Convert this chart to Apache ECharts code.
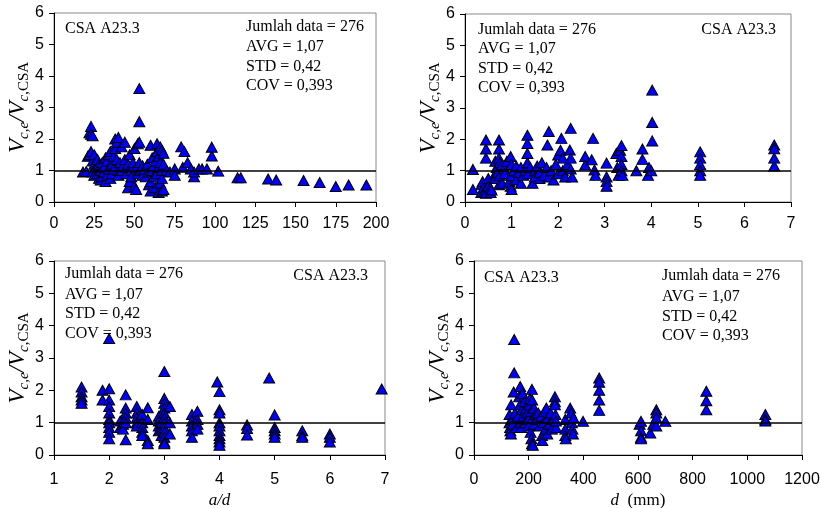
<!DOCTYPE html>
<html><head><meta charset="utf-8">
<script src="https://cdn.jsdelivr.net/npm/echarts@6/dist/echarts.min.js"></script>
<style>html,body{margin:0;padding:0;background:#fff}#c{width:822px;height:508px}</style>
</head><body><div id="c"></div>
<script>
// ---- Data ----
// Panel 1 (top-left): x axis 0..200
const p1 = [[18,0.95],[20,0.97],[21,1.45],[22,1.5],[22,2.2],[23,2.4],[23,2.15],[24,2.1],[23,1.6],[24,1.3],[25,1.5],[25,1.2],[24,0.95],[25,0.85],[26,1.1],[27,1.35],[27,0.9],[28,0.75],[28,1.2],[29,1.0],[29,0.7],[30,0.8],[30,1.25],[31,0.95],[31,1.1],[32,0.65],[32,1.4],[33,0.85],[33,1.3],[34,1.5],[34,1.05],[35,0.75],[35,1.6],[36,1.2],[36,0.9],[37,1.45],[37,1.05],[38,2.0],[38,1.7],[39,1.9],[39,1.35],[40,2.05],[40,1.0],[40,0.85],[41,1.25],[42,1.75],[42,1.0],[43,1.15],[44,1.9],[44,1.35],[45,0.9],[45,1.1],[46,0.45],[46,1.2],[47,0.65],[47,1.5],[48,1.0],[48,0.8],[49,1.25],[50,1.7],[50,0.5],[51,0.4],[51,1.1],[52,1.85],[52,0.9],[53,3.6],[53,2.55],[53,1.9],[53,1.25],[54,1.0],[55,0.85],[55,1.15],[56,1.05],[57,0.8],[58,1.2],[59,0.55],[59,0.95],[60,1.8],[60,0.35],[60,0.65],[61,1.4],[61,1.0],[62,0.8],[62,1.15],[63,0.45],[63,1.3],[64,1.85],[64,1.6],[64,0.9],[65,0.3],[65,1.1],[65,1.45],[66,1.75],[66,0.6],[66,1.25],[67,1.65],[67,0.35],[67,1.0],[67,0.75],[68,0.4],[68,1.55],[68,1.2],[70,1.0],[72,0.95],[75,1.05],[75,0.85],[79,1.75],[80,1.1],[81,1.6],[83,1.25],[85,1.05],[87,0.8],[87,0.95],[90,1.05],[92,1.05],[95,1.05],[98,1.74],[98,1.46],[102,0.98],[114,0.77],[116,0.77],[133,0.73],[138,0.7],[155,0.68],[165,0.62],[175,0.49],[183,0.54],[194,0.54]];
// Panel 2 (top-right): x axis 0..7
const p2 = [[0.17,1.04],[0.17,0.4],[0.35,0.55],[0.35,0.3],[0.38,0.65],[0.4,0.45],[0.42,0.35],[0.45,1.98],[0.45,1.69],[0.45,1.4],[0.45,0.28],[0.5,0.75],[0.5,0.5],[0.55,0.3],[0.55,0.45],[0.57,0.38],[0.65,1.3],[0.65,0.9],[0.65,0.75],[0.68,1.1],[0.7,0.95],[0.73,1.98],[0.73,1.69],[0.73,1.4],[0.73,0.55],[0.75,1.25],[0.75,0.85],[0.8,1.2],[0.8,0.6],[0.85,1.05],[0.85,0.9],[0.9,1.3],[0.95,0.65],[0.98,1.45],[0.98,0.5],[1.0,0.4],[1.0,1.2],[1.0,0.85],[1.05,1.0],[1.1,0.7],[1.1,1.15],[1.15,0.95],[1.2,0.6],[1.2,1.1],[1.25,0.85],[1.3,1.0],[1.34,2.13],[1.34,1.87],[1.34,1.55],[1.34,1.25],[1.35,0.9],[1.4,1.1],[1.45,0.6],[1.5,1.0],[1.5,0.8],[1.55,1.15],[1.6,0.75],[1.6,0.95],[1.65,1.25],[1.7,0.85],[1.75,1.1],[1.77,1.82],[1.8,2.25],[1.8,0.8],[1.85,1.0],[1.9,0.7],[1.95,1.2],[2.0,1.5],[2.0,0.9],[2.05,1.65],[2.07,2.03],[2.1,1.4],[2.1,1.0],[2.15,0.8],[2.2,1.2],[2.25,1.66],[2.27,2.35],[2.27,1.4],[2.27,1.05],[2.3,0.8],[2.58,1.45],[2.58,1.18],[2.72,1.35],[2.75,2.03],[2.78,1.02],[2.8,0.85],[3.04,1.24],[3.04,0.8],[3.04,0.65],[3.04,0.5],[3.25,1.55],[3.27,1.1],[3.3,0.85],[3.33,1.65],[3.36,1.8],[3.36,1.45],[3.36,1.2],[3.36,1.0],[3.38,0.85],[3.68,1.0],[3.81,1.69],[3.81,1.36],[3.93,0.85],[3.95,1.1],[4.0,1.0],[4.02,3.57],[4.02,2.54],[4.02,1.95],[5.05,1.6],[5.05,1.4],[5.05,1.2],[5.05,1.0],[5.05,0.85],[6.64,1.82],[6.64,1.7],[6.64,1.4],[6.64,1.15]];
// Panel 3 (bottom-left): a/d, x axis 1..7
const p3 = [[1.5,2.1],[1.5,1.95],[1.5,1.8],[1.5,1.7],[1.5,1.6],[1.88,2.0],[1.88,1.7],[2.0,3.6],[2.0,2.05],[2.0,1.7],[2.0,1.5],[2.0,1.3],[2.0,1.1],[2.0,1.0],[2.0,0.85],[2.0,0.7],[2.0,0.5],[2.2,1.05],[2.2,0.85],[2.25,0.95],[2.25,0.8],[2.3,1.86],[2.3,1.45],[2.3,1.3],[2.3,1.15],[2.3,1.0],[2.3,0.47],[2.5,1.5],[2.5,1.3],[2.5,1.15],[2.5,1.0],[2.5,0.9],[2.6,1.25],[2.6,1.0],[2.6,0.85],[2.6,0.7],[2.6,0.6],[2.7,1.46],[2.7,1.1],[2.7,0.45],[2.7,0.35],[2.9,1.2],[2.9,1.05],[2.9,0.9],[2.9,0.75],[2.95,1.0],[2.95,0.8],[2.95,0.6],[3.0,2.58],[3.0,1.75],[3.0,1.6],[3.0,1.45],[3.0,1.3],[3.0,1.15],[3.0,1.0],[3.0,0.85],[3.0,0.7],[3.0,0.55],[3.0,0.4],[3.0,0.35],[3.1,1.5],[3.1,1.0],[3.1,0.65],[3.5,1.25],[3.5,1.05],[3.5,0.9],[3.5,0.75],[3.5,0.55],[3.6,1.35],[3.6,1.1],[3.6,0.95],[3.6,0.8],[3.96,2.26],[4.0,1.96],[4.0,1.4],[4.0,1.3],[4.0,1.0],[4.0,0.9],[4.0,0.75],[4.0,0.6],[4.0,0.5],[4.0,0.4],[4.0,0.3],[4.5,0.93],[4.5,0.82],[4.5,0.62],[4.9,2.38],[5.0,1.24],[5.0,0.85],[5.0,0.75],[5.0,0.65],[5.0,0.55],[5.5,0.75],[5.5,0.6],[5.5,0.55],[6.0,0.65],[6.0,0.55],[6.0,0.4],[6.94,2.04]];
// Panel 4 (bottom-right): d (mm), x axis 0..1200
const p4 = [[147,3.57],[147,2.54],[145,1.95],[169,2.12],[212,2.03],[136,1.55],[130,1.25],[130,1.0],[132,0.85],[133,0.75],[135,0.65],[140,1.1],[142,0.95],[150,1.3],[155,0.85],[160,1.2],[165,1.8],[168,1.55],[170,1.0],[172,0.85],[175,1.4],[178,1.9],[180,1.2],[185,1.65],[188,1.0],[190,1.45],[195,1.3],[198,1.1],[200,0.9],[203,1.55],[205,1.75],[207,0.7],[208,1.35],[210,0.5],[212,0.35],[213,1.7],[215,0.3],[215,1.15],[218,0.95],[220,1.45],[225,1.25],[230,1.1],[235,1.3],[240,0.9],[245,1.2],[249,0.6],[250,0.45],[255,1.0],[258,1.35],[262,0.8],[265,1.45],[268,0.65],[270,1.15],[275,0.95],[280,1.3],[285,0.8],[290,1.1],[296,1.8],[296,1.65],[296,1.55],[298,1.25],[300,0.85],[300,1.05],[334,1.1],[334,0.8],[334,0.6],[336,0.5],[352,1.45],[355,1.3],[358,1.0],[360,0.8],[362,0.65],[364,1.15],[399,1.04],[458,2.38],[458,2.25],[458,2.0],[458,1.7],[458,1.38],[606,0.95],[611,1.04],[611,0.75],[611,0.55],[611,0.5],[645,0.68],[656,0.95],[667,1.4],[667,1.3],[667,1.15],[667,0.9],[700,1.04],[850,1.97],[850,1.68],[850,1.4],[1066,1.25],[1066,1.1],[1066,1.05]];
const xRanges = [[0,200,25],[0,7,1],[1,7,1],[0,1200,200]];
const yRange = [0,6,1];
const refLine = 1;
const statLines = ['Jumlah data = 276','AVG = 1,07','STD = 0,42','COV = 0,393'];
const codeLabel = 'CSA A23.3';
const xNames = ['', '', '{i|a/d}', '{i|d}{r|  (mm)}'];

// ---- Layout ----
const grids = [
  {left:54, top:13, width:322, height:189},
  {left:465, top:14, width:326, height:188},
  {left:54, top:261, width:331, height:194},
  {left:474, top:261, width:328, height:194}
];
const sans = '"Liberation Sans", Arial, sans-serif';
const serif = '"Liberation Serif", "Times New Roman", serif';
const yName = '{v|V}{s|c,e}{v|/V}{s|c}{r|,CSA}';
const yRich = {
  v:{fontFamily:serif, fontStyle:'italic', fontSize:23, color:'#000', lineHeight:26},
  s:{fontFamily:serif, fontStyle:'italic', fontSize:15, color:'#000', padding:[12,0,0,0], lineHeight:17},
  r:{fontFamily:serif, fontSize:15, color:'#000', padding:[12,0,0,0], lineHeight:17}
};
const xRich = {
  i:{fontFamily:serif, fontStyle:'italic', fontSize:17, color:'#000'},
  r:{fontFamily:serif, fontSize:17, color:'#000'}
};
const data = [p1,p2,p3,p4];

const option = {
  animation:false,
  backgroundColor:'#fff',
  grid: grids.map(g => Object.assign({show:true, borderColor:'#888', borderWidth:1, backgroundColor:'transparent', containLabel:false, outerBoundsMode:'none'}, g)),
  xAxis: xRanges.map((r,i) => ({
    type:'value', gridIndex:i, min:r[0], max:r[1], interval:r[2],
    name:xNames[i], nameLocation:'middle', nameGap:37, nameTextStyle:{rich:xRich},
    axisLine:{show:true, lineStyle:{color:'#000', width:1}},
    axisTick:{show:true, inside:false, length:5, lineStyle:{color:'#000'}},
    splitLine:{show:false},
    axisLabel:{fontFamily:sans, fontSize:16, color:'#000', margin:i<2?14:17, formatter:v=>String(v)}
  })),
  yAxis: grids.map((g,i) => ({
    type:'value', gridIndex:i, min:yRange[0], max:yRange[1], interval:yRange[2],
    name:yName, nameLocation:'middle', nameRotate:90, nameGap:i===3?23:22,
    nameTextStyle:{rich:yRich},
    axisLine:{show:true, lineStyle:{color:'#000', width:1}},
    axisTick:{show:true, inside:false, length:5, lineStyle:{color:'#000'}},
    splitLine:{show:false},
    axisLabel:{fontFamily:sans, fontSize:16, color:'#000', margin:10}
  })),
  series: data.map((d,i) => ({
    type:'scatter', xAxisIndex:i, yAxisIndex:i, data:d,
    symbol:'triangle', symbolSize:[11,10],
    itemStyle:{color:'#0000ff', borderColor:'#000', borderWidth:1, opacity:1},
    markLine:{silent:true, symbol:'none', label:{show:false},
      lineStyle:{color:'#000', width:1.5, type:'solid'},
      data:[{yAxis:refLine}]},
    z:3
  })),
  graphic: []
};

function addText(x, y, text, align){
  option.graphic.push({type:'text', x:x, y:y, z:10, silent:true,
    style:{text:text, font:'16px ' + serif, fill:'#000', textAlign:align||'left', textVerticalAlign:'middle', align:align||'left', verticalAlign:'middle'}});
}
function addStats(x, ys){ statLines.forEach((t,k)=>addText(x, ys[k], t)); }

// top-left
addText(65, 29, codeLabel);
addStats(246, [27, 47, 67, 86]);
// top-right
addStats(478, [30, 49, 69, 88]);
addText(776, 30, codeLabel, 'right');
// bottom-left
addStats(65, [274, 295, 314, 334]);
addText(368, 276, codeLabel, 'right');
// bottom-right
addText(484, 278, codeLabel);
addStats(662, [276, 297, 317, 336]);

const chart = echarts.init(document.getElementById('c'), null, {renderer:'canvas'});
chart.setOption(option);
</script></body></html>
